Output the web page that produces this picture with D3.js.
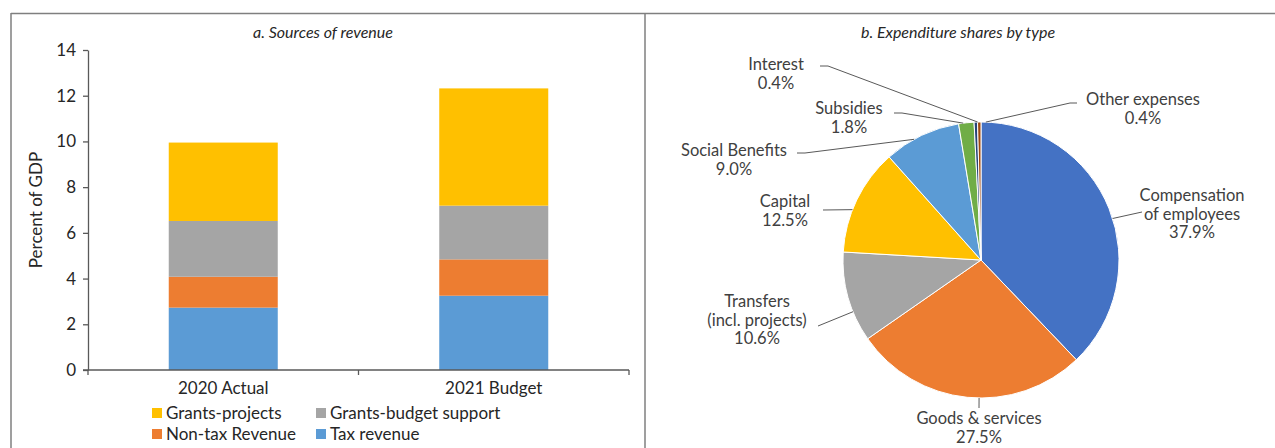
<!DOCTYPE html>
<html><head><meta charset="utf-8">
<script src="https://cdn.jsdelivr.net/npm/d3@7"></script>
<style>body{margin:0;background:#fff}svg{display:block}</style>
</head><body>
<svg id="c" width="1275" height="448"></svg>
<script>
// ---- Data ----
const categories = ["2020 Actual", "2021 Budget"];
const taxRevenue = [2.73, 3.25];
const nonTaxRevenue = [1.35, 1.59];
const grantsBudget = [2.44, 2.35];
const grantsProjects = [3.43, 5.13];
const seriesNames = ["Tax revenue", "Non-tax Revenue", "Grants-budget support", "Grants-projects"];
const yTicks = [0, 2, 4, 6, 8, 10, 12, 14];
const legendOrder = ["Grants-projects", "Grants-budget support", "Non-tax Revenue", "Tax revenue"];

const pieLabels = ["Compensation of employees", "Goods & services", "Transfers (incl. projects)", "Capital", "Social Benefits", "Subsidies", "Interest", "Other expenses"];
const pieValues = [37.9, 27.5, 10.6, 12.5, 9.0, 1.8, 0.4, 0.4];

// ---- Styles / layout ----
const barColors = {"Tax revenue":"#5B9BD5","Non-tax Revenue":"#ED7D31","Grants-budget support":"#A5A5A5","Grants-projects":"#FFC000"};
const pieColors = ["#4472C4","#ED7D31","#A5A5A5","#FFC000","#5B9BD5","#70AD47","#264478","#9E480E"];
const FONT = "Lato, 'Open Sans', sans-serif";
const svg = d3.select("#c");

// panel frame
const frame = svg.append("g").attr("fill","none").attr("stroke","#7f7f7f").attr("stroke-width",1.5);
frame.append("line").attr("x1",11).attr("x2",1275).attr("y1",13.5).attr("y2",13.5);
frame.append("line").attr("x1",11).attr("x2",11).attr("y1",13).attr("y2",448);
frame.append("line").attr("x1",645).attr("x2",645).attr("y1",13).attr("y2",448);

// subtitles
svg.append("text").attr("x",323).attr("y",38).attr("text-anchor","middle")
  .style("font-family",FONT).style("font-style","italic").style("font-size","16px").attr("fill","#262626")
  .text("a. Sources of revenue");
svg.append("text").attr("x",958).attr("y",38).attr("text-anchor","middle")
  .style("font-family",FONT).style("font-style","italic").style("font-size","16px").attr("fill","#262626")
  .text("b. Expenditure shares by type");

// ---- Bar chart ----
const x0 = 88, x1 = 629, yTop = 50, yBot = 370;
const x = d3.scaleBand().domain(categories).range([x0, x1]).paddingInner(0.597).paddingOuter(0.2985);
const y = d3.scaleLinear().domain([0, 14]).range([yBot, yTop]);

const rows = categories.map((c, i) => ({cat: c,
  "Tax revenue": taxRevenue[i], "Non-tax Revenue": nonTaxRevenue[i],
  "Grants-budget support": grantsBudget[i], "Grants-projects": grantsProjects[i]}));
const stacked = d3.stack().keys(seriesNames)(rows);

svg.append("g").selectAll("g").data(stacked).join("g")
  .attr("fill", d => barColors[d.key])
  .selectAll("rect").data(d => d).join("rect")
  .attr("x", d => x(d.data.cat)).attr("width", x.bandwidth())
  .attr("y", d => y(d[1])).attr("height", d => y(d[0]) - y(d[1]));

// y axis
const yAxis = svg.append("g").attr("transform", `translate(${x0},0)`)
  .call(d3.axisLeft(y).tickValues(yTicks).tickSize(5).tickSizeOuter(0).tickPadding(7));
yAxis.select(".domain").attr("stroke","#595959").attr("stroke-width",1.3);
yAxis.selectAll(".tick line").attr("stroke","#595959").attr("stroke-width",1.3);
yAxis.selectAll("text").style("font-family",FONT).style("font-size","17px").attr("fill","#262626");

// x axis with ticks at band boundaries
const xg = svg.append("g");
xg.append("line").attr("x1",x0-5).attr("x2",x1).attr("y1",yBot).attr("y2",yBot).attr("stroke","#595959").attr("stroke-width",1.3);
const bounds = [x0, (x(categories[0]) + x.bandwidth() + x(categories[1]))/2, x1];
xg.selectAll("line.t").data(bounds).join("line").attr("class","t")
  .attr("x1",d=>d).attr("x2",d=>d).attr("y1",yBot).attr("y2",yBot+5).attr("stroke","#595959").attr("stroke-width",1.3);
xg.selectAll("text").data(categories).join("text")
  .attr("x", d => x(d) + x.bandwidth()/2).attr("y", 394).attr("text-anchor","middle")
  .style("font-family",FONT).style("font-size","17px").attr("fill","#262626").text(d => d);

svg.append("text").attr("transform","translate(42,210) rotate(-90)").attr("text-anchor","middle")
  .style("font-family",FONT).style("font-size","17px").attr("fill","#262626").text("Percent of GDP");

// legend
const legPos = [[152,408],[316,408],[152,429],[316,429]];
const leg = svg.append("g").selectAll("g").data(legendOrder).join("g")
  .attr("transform",(d,i)=>`translate(${legPos[i][0]},${legPos[i][1]})`);
leg.append("rect").attr("width",10).attr("height",10).attr("fill",d=>barColors[d]);
leg.append("text").attr("x",14).attr("y",11).style("font-family",FONT).style("font-size","17px").attr("fill","#262626").text(d=>d);

// ---- Pie ----
const cx = 981, cy = 260, R = 138;
const pie = d3.pie().sort(null).value(d => d)(pieValues);
const arc = d3.arc().innerRadius(0).outerRadius(R);
const pg = svg.append("g").attr("transform",`translate(${cx},${cy})`);
pg.selectAll("path").data(pie).join("path").attr("d", arc)
  .attr("fill",(d,i)=>pieColors[i]).attr("stroke","#fff").attr("stroke-width",1);

// label layout (positions relative to canvas; leader touch angle in degrees)
const labelLayout = [
  {lines:["Compensation","of employees"], x:1192, y:201, pts:[[1142,212]], ang:72.5},
  {lines:["Goods & services"], x:979, y:424, pts:[[979,408]], ang:180.8},
  {lines:["Transfers","(incl. projects)"], x:757, y:307, pts:[[818,326]], ang:248},
  {lines:["Capital"], x:785, y:207, pts:[[823,210]], ang:291.4},
  {lines:["Social Benefits"], x:734, y:156, pts:[[797,153],[805,153]], ang:331},
  {lines:["Subsidies"], x:849, y:114, pts:[[894,113],[902,113]], ang:352.6},
  {lines:["Interest"], x:776, y:70, pts:[[820,66],[828,66]], ang:358.6},
  {lines:["Other expenses"], x:1143, y:105, pts:[[1077,103],[1070,103]], ang:2}
];
const fmt = d3.format(".1f");
labelLayout.forEach((L, i) => {
  const a = L.ang * Math.PI / 180;
  const end = [cx + R * Math.sin(a), cy - R * Math.cos(a)];
  svg.append("path").attr("d", d3.line()([...L.pts, end]))
    .attr("fill","none").attr("stroke","#595959").attr("stroke-width",1);
  const t = svg.append("text").attr("text-anchor","middle")
    .style("font-family",FONT).style("font-size","16.5px").attr("fill","#404040");
  const lines = [...L.lines, fmt(pieValues[i]) + "%"];
  lines.forEach((s, k) => t.append("tspan").attr("x", L.x).attr("y", L.y + k*18.5).text(s));
});
</script>
</body></html>
